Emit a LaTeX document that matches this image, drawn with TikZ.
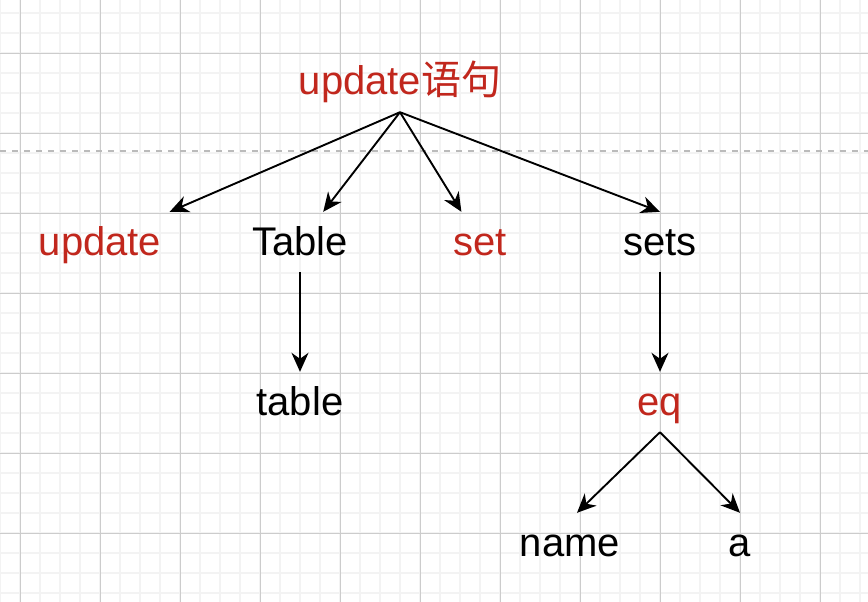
\documentclass[tikz,border=0pt]{standalone}
\usepackage{fontspec}
\setmainfont{Liberation Sans}
\newfontfamily\cjk{Noto Sans CJK SC}
\usetikzlibrary{arrows.meta}
\definecolor{kwred}{HTML}{C1271D}
\definecolor{gridminor}{HTML}{F3F3F3}
\definecolor{gridmajor}{HTML}{CCCCCC}
\definecolor{dashgray}{HTML}{BBBBBB}
\tikzstyle{cell} = [rectangle, minimum width=140pt, minimum height=60pt, inner sep=0pt, text height=30pt, text depth=4pt, text centered, font=\fontsize{40pt}{48pt}\selectfont]
\tikzstyle{keyword} = [cell, text=kwred]
\tikzstyle{term} = [cell, text=black]
\tikzstyle{arrow} = [line width=1.9pt,->,>={Stealth[length=19pt,width=17pt,inset=6pt]}]
\begin{document}
\begin{tikzpicture}[x=1pt, y=-1pt, node distance=160pt]

    % Background grid
    \useasboundingbox[fill=white] (0,0) rectangle (868,602);
    \foreach \x in {0,20,...,860} \draw[gridminor, line width=1.6pt] (\x,0) -- (\x,602);
    \foreach \y in {13,33,...,593} \draw[gridminor, line width=1.6pt] (0,\y) -- (868,\y);
    \foreach \x in {20,100,...,820} \draw[gridmajor, line width=0.8pt] (\x,0) -- (\x,602);
    \foreach \y in {53,133,...,533} \draw[gridmajor, line width=0.8pt] (0,\y) -- (868,\y);
    \draw[dashgray, line width=1.8pt, dash pattern=on 6pt off 6pt] (0,151) -- (868,151);

    % Nodes
    \node (stmt) [keyword] at (400,82) {update{\cjk 语句}};
    \node (Table) [term, below of=stmt, xshift=-100pt] {Table};
    \node (update) [keyword, left of=Table, xshift=-40pt] {update};
    \node (set) [keyword, right of=Table, xshift=20pt] {set};
    \node (sets) [term, right of=set, xshift=20pt] {sets};
    \node (table) [term, below of=Table] {table};
    \node (eq) [keyword, below of=sets] {eq};
    \node (name) [term, below of=eq, xshift=-90pt, yshift=19pt] {name};
    \node (a) [term, below of=eq, xshift=80pt, yshift=19pt] {a};

    % Arrows
    \draw [arrow] (stmt.south) -- (update);
    \draw [arrow] (stmt.south) -- (Table);
    \draw [arrow] (stmt.south) -- (set);
    \draw [arrow] (stmt.south) -- (sets.north);
    \draw [arrow] (Table) -- (table);
    \draw [arrow] (sets) -- (eq);
    \draw [arrow] (eq.south) -- ([xshift=7pt]name.north);
    \draw [arrow] (eq.south) -- (a.north);

\end{tikzpicture}
\end{document}
